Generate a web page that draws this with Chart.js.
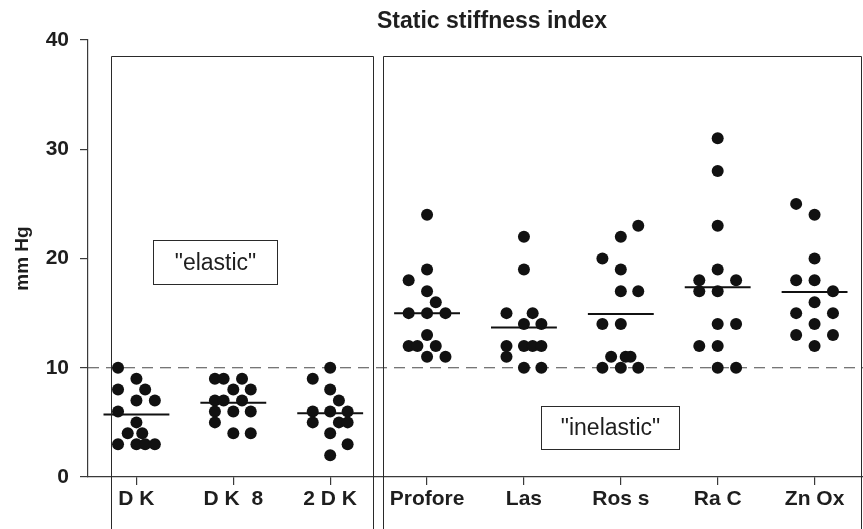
<!DOCTYPE html>
<html lang="en">
<head>
    <meta charset="UTF-8">
    <title>Static stiffness index</title>
    <script src="https://cdn.jsdelivr.net/npm/chart.js"></script>
    <style>
        body {
            margin: 0;
            background-color: #ffffff;
        }
        #chart {
            display: block;
        }
    </style>
</head>
<body>

<canvas id="chart" width="863" height="529"></canvas>

<script>
    // categories along the x axis
    var categories = ['D K', 'D K  8', '2 D K', 'Profore', 'Las', 'Ros s', 'Ra C', 'Zn Ox'];
    var yTicks = [0, 10, 20, 30, 40];
    var threshold = 10;

    // mm Hg values per bandage, with the horizontal spread of each dot (category units)
    var dkValues = [10, 9, 8, 8, 7, 7, 6, 5, 4, 4, 3, 3, 3, 3];
    var dkSpread = [-0.19, 0, -0.19, 0.09, 0, 0.19, -0.19, 0, -0.09, 0.06, -0.19, 0, 0.09, 0.19];

    var dk8Values = [9, 9, 9, 8, 8, 7, 7, 7, 6, 6, 6, 5, 4, 4];
    var dk8Spread = [-0.19, -0.1, 0.09, 0, 0.18, -0.19, -0.1, 0.09, -0.19, 0, 0.18, -0.19, 0, 0.18];

    var twoDkValues = [10, 9, 8, 7, 6, 6, 6, 5, 5, 5, 4, 3, 2];
    var twoDkSpread = [0, -0.18, 0, 0.09, -0.18, 0, 0.18, -0.18, 0.09, 0.18, 0, 0.18, 0];

    var proforeValues = [24, 19, 18, 17, 16, 15, 15, 15, 13, 12, 12, 12, 11, 11];
    var proforeSpread = [0, 0, -0.19, 0, 0.09, -0.19, 0, 0.19, 0, -0.19, -0.1, 0.09, 0, 0.19];

    var lasValues = [22, 19, 15, 15, 14, 14, 12, 12, 12, 12, 11, 10, 10];
    var lasSpread = [0, 0, -0.18, 0.09, 0, 0.18, -0.18, 0, 0.09, 0.18, -0.18, 0, 0.18];

    var rossValues = [23, 22, 20, 19, 17, 17, 14, 14, 11, 11, 11, 10, 10, 10];
    var rossSpread = [0.18, 0, -0.19, 0, 0, 0.18, -0.19, 0, -0.1, 0.05, 0.1, -0.19, 0, 0.18];

    var racValues = [31, 28, 23, 19, 18, 18, 17, 17, 14, 14, 12, 12, 10, 10];
    var racSpread = [0, 0, 0, 0, -0.19, 0.19, -0.19, 0, 0, 0.19, -0.19, 0, 0, 0.19];

    var znoxValues = [25, 24, 20, 18, 18, 17, 16, 15, 15, 14, 13, 13, 12];
    var znoxSpread = [-0.19, 0, 0, -0.19, 0, 0.19, 0, -0.19, 0.19, 0, -0.19, 0.19, 0];

    var groupValues = [dkValues, dk8Values, twoDkValues, proforeValues, lasValues, rossValues, racValues, znoxValues];
    var groupSpread = [dkSpread, dk8Spread, twoDkSpread, proforeSpread, lasSpread, rossSpread, racSpread, znoxSpread];

    var textColor = '#1e1e1e';
    var axisColor = '#3a3a3a';
    var fontFamily = '"Liberation Sans", Arial, Helvetica, sans-serif';

    // build scatter points and mean segments
    var dots = [];
    var means = [];
    groupValues.forEach(function (vals, i) {
        var sum = 0;
        vals.forEach(function (v, j) {
            dots.push({x: i + groupSpread[i][j], y: v});
            sum += v;
        });
        var m = sum / vals.length;
        means.push({x: i - 0.34, y: m});
        means.push({x: i + 0.34, y: m});
        means.push({x: i + 0.5, y: null});
    });

    // boxes drawn around the groups (data units)
    var frames = [
        {x0: -0.265, x1: 2.44, top: 38.5},
        {x0: 2.55, x1: 7.48, top: 38.5}
    ];
    var labelBoxes = [
        {x0: 0.166, x1: 1.449, top: 21.67, bottom: 17.69, text: '"elastic"'},
        {x0: 4.173, x1: 5.604, top: 6.53, bottom: 2.56, text: '"inelastic"'}
    ];

    var annotations = {
        id: 'annotations',
        afterDatasetsDraw: function (chart) {
            var ctx = chart.ctx;
            var xs = chart.scales.x;
            var ys = chart.scales.y;
            ctx.save();
            ctx.strokeStyle = '#2a2a2a';
            ctx.lineWidth = 1;
            frames.forEach(function (f) {
                var l = Math.round(xs.getPixelForValue(f.x0)) + 0.5;
                var r = Math.round(xs.getPixelForValue(f.x1)) + 0.5;
                var t = Math.round(ys.getPixelForValue(f.top)) + 0.5;
                var b = chart.height + 5;
                ctx.beginPath();
                ctx.moveTo(l, b);
                ctx.lineTo(l, t);
                ctx.lineTo(r, t);
                ctx.lineTo(r, b);
                ctx.stroke();
            });
            labelBoxes.forEach(function (bx) {
                var l = Math.round(xs.getPixelForValue(bx.x0)) + 0.5;
                var r = Math.round(xs.getPixelForValue(bx.x1)) + 0.5;
                var t = Math.round(ys.getPixelForValue(bx.top)) + 0.5;
                var b = Math.round(ys.getPixelForValue(bx.bottom)) + 0.5;
                ctx.fillStyle = '#ffffff';
                ctx.fillRect(l, t, r - l, b - t);
                ctx.strokeRect(l, t, r - l, b - t);
                ctx.fillStyle = textColor;
                ctx.font = '23px ' + fontFamily;
                ctx.textAlign = 'center';
                ctx.textBaseline = 'middle';
                ctx.fillText(bx.text, (l + r) / 2, (t + b) / 2 + 1);
            });
            // chart title
            ctx.fillStyle = textColor;
            ctx.font = 'bold 23px ' + fontFamily;
            ctx.textAlign = 'center';
            ctx.textBaseline = 'middle';
            ctx.fillText('Static stiffness index', 492, 22);
            ctx.restore();
        }
    };

    function noPadding(scale) {
        scale.paddingLeft = 0;
        scale.paddingRight = 0;
        scale.paddingTop = 0;
        scale.paddingBottom = 0;
    }

    new Chart(document.getElementById('chart').getContext('2d'), {
        data: {
            datasets: [
                {
                    type: 'line',
                    label: 'threshold',
                    data: [{x: -0.5, y: threshold}, {x: 7.5, y: threshold}],
                    borderColor: '#4a4a4a',
                    borderWidth: 1.2,
                    borderDash: [11, 7],
                    pointRadius: 0,
                    order: 3
                },
                {
                    type: 'line',
                    label: 'mean',
                    data: means,
                    borderColor: '#111111',
                    borderWidth: 2,
                    pointRadius: 0,
                    spanGaps: false,
                    order: 2
                },
                {
                    type: 'scatter',
                    label: 'values',
                    data: dots,
                    backgroundColor: '#111111',
                    borderWidth: 0,
                    pointRadius: 6,
                    order: 1
                }
            ]
        },
        options: {
            responsive: false,
            animation: false,
            layout: {autoPadding: false, padding: {top: 40, left: 0, right: 0, bottom: 0}},
            plugins: {
                legend: {display: false},
                title: {display: false},
                tooltip: {enabled: false}
            },
            scales: {
                x: {
                    type: 'linear',
                    min: -0.5,
                    max: 7.5,
                    afterBuildTicks: function (scale) {
                        scale.ticks = categories.map(function (c, i) { return {value: i}; });
                    },
                    afterFit: function (scale) {
                        scale.height = 52;
                        noPadding(scale);
                    },
                    ticks: {
                        callback: function (value) { return categories[Math.round(value)]; },
                        color: textColor,
                        font: {family: fontFamily, size: 21, weight: 'bold'},
                        padding: 2,
                        maxRotation: 0,
                        autoSkip: false
                    },
                    grid: {drawOnChartArea: false, tickLength: 8, color: axisColor, lineWidth: 1.2},
                    border: {color: axisColor, width: 1.2}
                },
                y: {
                    min: 0,
                    max: 40,
                    afterBuildTicks: function (scale) {
                        scale.ticks = yTicks.map(function (v) { return {value: v}; });
                    },
                    afterFit: function (scale) {
                        scale.width = 88;
                        noPadding(scale);
                    },
                    ticks: {
                        color: textColor,
                        font: {family: fontFamily, size: 21, weight: 'bold'},
                        padding: 11
                    },
                    grid: {drawOnChartArea: false, tickLength: 8, color: axisColor, lineWidth: 1.2},
                    border: {color: axisColor, width: 1.2},
                    title: {
                        display: true,
                        text: 'mm Hg',
                        color: textColor,
                        font: {family: fontFamily, size: 19, weight: 'bold'},
                        padding: {top: 11, bottom: 0}
                    }
                }
            }
        },
        plugins: [annotations]
    });
</script>

</body>
</html>
